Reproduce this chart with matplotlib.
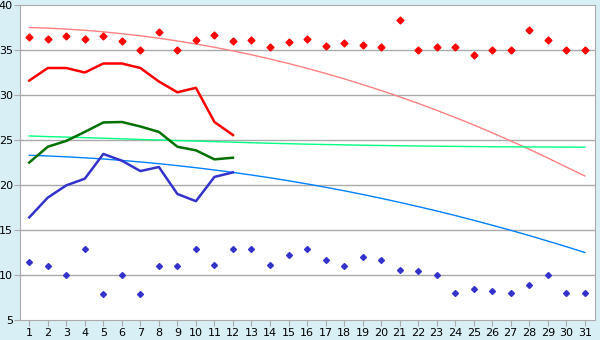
import matplotlib
matplotlib.use("Agg")
import matplotlib.pyplot as plt

days = list(range(1, 32))
short_days = list(range(1, 13))

# scattered daily values
red_points = [36.4, 36.2, 36.6, 36.2, 36.6, 36.0, 35.0, 37.0, 35.0, 36.1,
              36.7, 36.0, 36.1, 35.3, 35.85, 36.2, 35.5, 35.75, 35.6, 35.3,
              38.3, 35.0, 35.3, 35.3, 34.5, 35.0, 35.0, 37.2, 36.1, 35.0, 35.0]
blue_points = [11.5, 11.0, 10.0, 12.85, 7.85, 10.0, 7.85, 11.0, 11.0, 12.85,
               11.1, 12.85, 12.85, 11.1, 12.2, 12.85, 11.7, 10.96, 11.96, 11.7,
               10.6, 10.4, 10.0, 8.0, 8.4, 8.2, 8.0, 8.9, 10.0, 8.0, 8.0]

# short series (first 12 days)
red_line = [31.6, 33.0, 33.0, 32.5, 33.5, 33.5, 33.0, 31.5, 30.3, 30.8, 27.0, 25.55]
green_line = [22.5, 24.25, 24.9, 25.9, 26.95, 27.0, 26.5, 25.9, 24.25, 23.85, 22.85, 23.03]
blue_line = [16.4, 18.6, 19.96, 20.7, 23.45, 22.7, 21.55, 22.0, 19.0, 18.2, 20.9, 21.4]

# long curves
pink_curve = [37.5, 37.43, 37.32, 37.19, 37.02, 36.81, 36.58, 36.31, 36.0, 35.67,
              35.3, 34.9, 34.47, 34.0, 33.5, 32.96, 32.4, 31.8, 31.16, 30.5,
              29.8, 29.07, 28.3, 27.5, 26.68, 25.8, 24.9, 23.98, 23.0, 22.0, 21.0]
light_green_curve = [25.45, 25.38, 25.32, 25.26, 25.2, 25.13, 25.06, 25.0, 24.94, 24.88,
                     24.82, 24.76, 24.7, 24.64, 24.59, 24.54, 24.5, 24.46, 24.42, 24.39,
                     24.36, 24.33, 24.31, 24.29, 24.27, 24.25, 24.24, 24.23, 24.22, 24.21, 24.2]
blue_curve = [23.3, 23.23, 23.13, 23.02, 22.89, 22.73, 22.56, 22.37, 22.15, 21.92,
              21.67, 21.4, 21.11, 20.8, 20.47, 20.12, 19.75, 19.36, 18.95, 18.52,
              18.07, 17.6, 17.12, 16.61, 16.08, 15.53, 14.97, 14.38, 13.77, 13.15, 12.5]

fig = plt.figure(figsize=(6, 3.4), dpi=100, facecolor="#d9eff6")
ax = fig.add_axes([20 / 600, 1 - 320 / 340, 575 / 600, 315 / 340])
ax.set_facecolor("white")

# grid lines
for y in range(10, 40, 5):
    ax.axhline(y, color="#aaaaaa", lw=1, zorder=0)

ax.plot(days, pink_curve, color="#ff8080", lw=1)
ax.plot(days, light_green_curve, color="#00ff80", lw=1)
ax.plot(days, blue_curve, color="#0080ff", lw=1)

ax.plot(short_days, red_line, color="#ff0000", lw=1.8)
ax.plot(short_days, green_line, color="#007000", lw=1.8)
ax.plot(short_days, blue_line, color="#3333cc", lw=1.8)

ax.plot(days, red_points, "D", color="#ff0000", ms=3.5, ls="none")
ax.plot(days, blue_points, "D", color="#3333cc", ms=3, ls="none")

ax.set_xlim(0.5, 31.55)
ax.set_ylim(5, 40)
ax.set_xticks(days)
ax.set_yticks(range(5, 45, 5))

for s in ax.spines.values():
    s.set_color("#aaaaaa")
ax.tick_params(axis="both", colors="#aaaaaa", labelcolor="black", labelsize=8, length=4)
ax.tick_params(axis="x", pad=2)
ax.tick_params(axis="y", pad=1)

fig.savefig("out.png", dpi=100, facecolor=fig.get_facecolor())
